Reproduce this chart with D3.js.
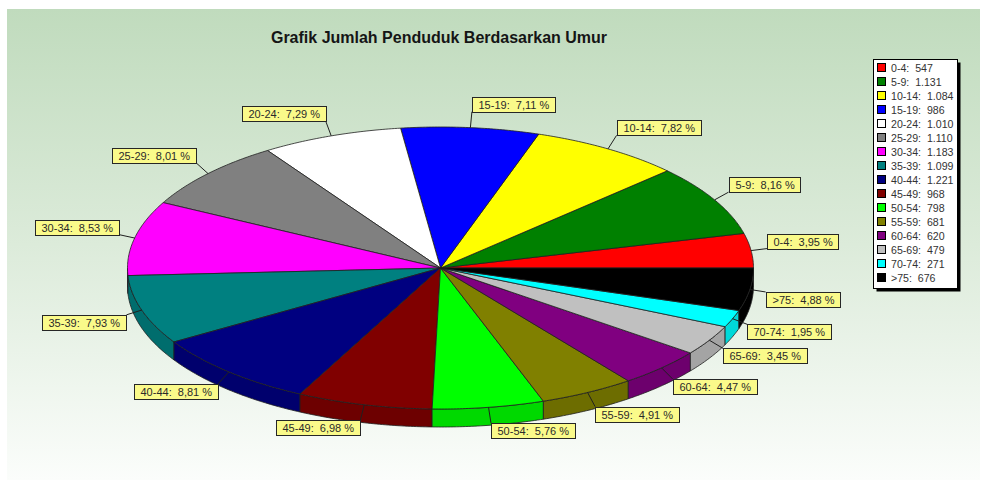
<!DOCTYPE html>
<html>
<head>
<meta charset="utf-8">
<script src="https://cdn.jsdelivr.net/npm/d3@7"></script>
<style>
  html, body { margin: 0; padding: 0; background: #ffffff; }
  svg { display: block; }
  text { font-family: Arial, "Liberation Sans", sans-serif; }
</style>
</head>
<body>
<script>
// ---- data ----
const categories = ["0-4", "5-9", "10-14", "15-19", "20-24", "25-29", "30-34", "35-39",
                    "40-44", "45-49", "50-54", "55-59", "60-64", "65-69", "70-74", ">75"];
const values = [547, 1131, 1084, 986, 1010, 1110, 1183, 1099,
                1221, 968, 798, 681, 620, 479, 271, 676];
const titleText = "Grafik Jumlah Penduduk Berdasarkan Umur";

// ---- style ----
const palette = ["#ff0000", "#008000", "#ffff00", "#0000ff", "#ffffff", "#808080", "#ff00ff", "#008080",
                 "#000080", "#800000", "#00ff00", "#808000", "#800080", "#c0c0c0", "#00ffff", "#000000"];

const W = 982, H = 482;
const cx = 440.5, cy = 268, rx = 313, ry = 141, depth = 18;

const loc = d3.formatLocale({decimal: ",", thousands: ".", grouping: [3], currency: ["", ""]});
const fmtPct = loc.format(".2f");
const fmtVal = loc.format(",d");

const svg = d3.select("body").append("svg").attr("width", W).attr("height", H);

// background gradient panel
const defs = svg.append("defs");
const grad = defs.append("linearGradient").attr("id", "bg").attr("x1", 0).attr("y1", 0).attr("x2", 0).attr("y2", 1);
grad.append("stop").attr("offset", "0%").attr("stop-color", "#c0dbbd");
grad.append("stop").attr("offset", "50%").attr("stop-color", "#dcebda");
grad.append("stop").attr("offset", "100%").attr("stop-color", "#fbfdfb");
svg.append("rect").attr("x", 7).attr("y", 9).attr("width", 973).attr("height", 471).attr("fill", "url(#bg)");

// title
svg.append("text").attr("x", 439).attr("y", 43).attr("text-anchor", "middle")
  .attr("font-size", 16).attr("font-weight", "bold").attr("fill", "#151515").text(titleText);

// pie layout (angles measured counter-clockwise from 3 o'clock)
const data = categories.map((c, i) => ({cat: c, value: values[i], color: palette[i]}));
const total = d3.sum(values);
const arcs = d3.pie().sort(null).value(d => d.value).startAngle(0).endAngle(2 * Math.PI)(data);

const P = (t, dy = 0) => [cx + rx * Math.cos(t), cy - ry * Math.sin(t) + dy];
const arcPts = (a, b, dy = 0) => {
  const n = Math.max(2, Math.ceil((b - a) / 0.01));
  return d3.range(n + 1).map(k => P(a + (b - a) * k / n, dy));
};
const line = d3.line();

// side walls (front half: angles between PI and 2PI)
const gSide = svg.append("g");
arcs.forEach(a => {
  const s = Math.max(a.startAngle, Math.PI), e = Math.min(a.endAngle, 2 * Math.PI);
  if (s < e) {
    const pts = arcPts(s, e).concat(arcPts(s, e, depth).reverse());
    gSide.append("path").attr("d", line(pts) + "Z")
      .attr("fill", d3.color(a.data.color).darker(0.45))
      .attr("stroke", "#202020").attr("stroke-width", 0.8).attr("stroke-linejoin", "round");
  }
});

// top faces
const gTop = svg.append("g");
arcs.forEach(a => {
  const pts = [[cx, cy]].concat(arcPts(a.startAngle, a.endAngle));
  gTop.append("path").attr("d", line(pts) + "Z")
    .attr("fill", a.data.color)
    .attr("stroke", "#202020").attr("stroke-width", 0.8).attr("stroke-linejoin", "round");
});

// labels
const gLab = svg.append("g");
const leadLen = 16, boxH = 15, padX = 6;
arcs.forEach(a => {
  const m = (a.startAngle + a.endAngle) / 2;
  const p0 = P(m);
  const p1 = [p0[0] + leadLen * Math.cos(m), p0[1] - leadLen * Math.sin(m)];
  gLab.append("line").attr("x1", p0[0]).attr("y1", p0[1]).attr("x2", p1[0]).attr("y2", p1[1])
    .attr("stroke", "#202020").attr("stroke-width", 1);
  const label = a.data.cat + ":  " + fmtPct(a.data.value / total * 100) + " %";
  const g = gLab.append("g");
  const rect = g.append("rect").attr("fill", "#fafa8a").attr("stroke", "#262626").attr("stroke-width", 1);
  const t = g.append("text").attr("font-size", 11).attr("fill", "#2a2a2a")
    .style("white-space", "pre").text(label);
  const tw = t.node().getComputedTextLength();
  const w = Math.round(tw + 2 * padX);
  const bx = Math.round(Math.cos(m) >= 0 ? p1[0] : p1[0] - w);
  const by = Math.round(Math.sin(m) > 0 ? p1[1] - boxH : p1[1]);
  rect.attr("x", bx + 0.5).attr("y", by + 0.5).attr("width", w).attr("height", boxH);
  t.attr("x", bx + padX + 0.5).attr("y", by + 12);
});

// legend
const lg = svg.append("g");
const lx = 873, ly = 59, lw = 84, lh = 229, rowH = 14;
lg.append("rect").attr("x", lx + 3.5).attr("y", ly + 3.5).attr("width", lw).attr("height", lh).attr("fill", "#000");
lg.append("rect").attr("x", lx + 0.5).attr("y", ly + 0.5).attr("width", lw).attr("height", lh)
  .attr("fill", "#ffffff").attr("stroke", "#000").attr("stroke-width", 1);
data.forEach((d, i) => {
  const y = ly + 4 + i * rowH;
  lg.append("rect").attr("x", lx + 4.5).attr("y", y + 0.5).attr("width", 8).attr("height", 8)
    .attr("fill", d.color).attr("stroke", "#000").attr("stroke-width", 1);
  lg.append("text").attr("x", lx + 18).attr("y", y + 9).attr("font-size", 10.6).attr("fill", "#333")
    .style("white-space", "pre").text(d.cat + ":  " + fmtVal(d.value));
});
</script>
</body>
</html>
